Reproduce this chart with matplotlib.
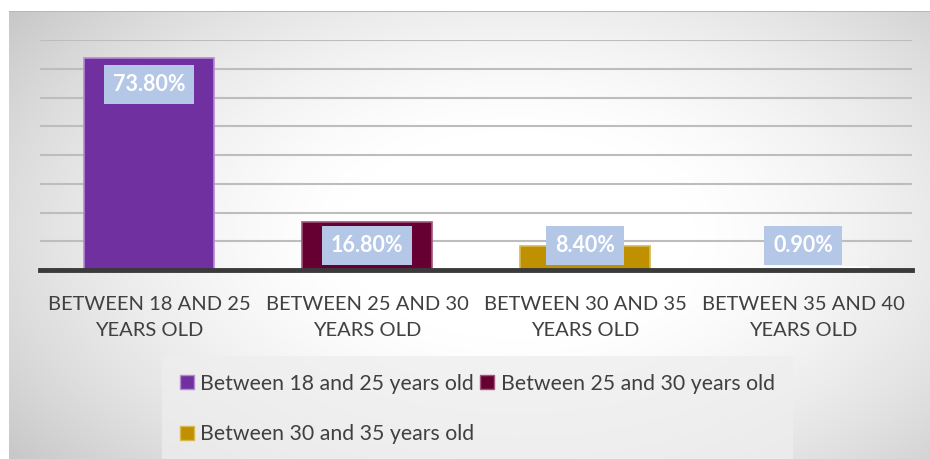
import numpy as np
import matplotlib.pyplot as plt
from matplotlib.patches import Patch

# Datos: distribución por grupos de edad (porcentaje)
categorias = ['BETWEEN 18 AND 25\nYEARS OLD', 'BETWEEN 25 AND 30\nYEARS OLD',
              'BETWEEN 30 AND 35\nYEARS OLD', 'BETWEEN 35 AND 40\nYEARS OLD']
series = ['Between 18 and 25 years old', 'Between 25 and 30 years old',
          'Between 30 and 35 years old', 'Between 35 and 40 years old']
valores = [73.8, 16.8, 8.4, 0.9]
colores = ['#7030a0', '#660033', '#bf9000', '#eef2f8']
bordes = ['#b58ad3', '#a0577a', '#d8b850', '#ffffff']

plt.rcParams['font.family'] = ['Lato', 'DejaVu Sans']

fig = plt.figure(figsize=(9.3, 4.59), dpi=100)
W, H = 930, 459

# Fondo del área del gráfico con degradado radial
fondo = fig.add_axes([9 / W, 0, 1 - 9 / W, (H - 11) / H], zorder=-10)
xx, yy = np.meshgrid(np.linspace(0, 1, 400), np.linspace(0, 1, 200))
r2 = ((xx - 0.55) / 0.66) ** 2 + ((yy - 0.5) / 0.8) ** 2
tono = np.clip(1.02 - 0.22 * r2, 0.77, 1.0)
fondo.imshow(np.dstack([tono, tono, tono]), aspect='auto', extent=[0, 1, 0, 1],
             origin='lower', interpolation='bicubic')
fondo.plot([0, 1], [1, 1], color='#b8b8b8', lw=1.5, transform=fondo.transAxes)
fondo.set_axis_off()

ax = fig.add_axes([40 / W, (H - 270) / H, (912 - 40) / W, (270 - 40) / H])
ax.patch.set_alpha(0)

x = np.arange(len(valores))
barras = ax.bar(x, valores, width=0.6, color=colores, edgecolor=bordes,
                linewidth=1.2, zorder=3)

ax.set_xlim(-0.5, len(valores) - 0.5)
ax.set_ylim(0, 80)
ax.set_yticks(np.arange(10, 81, 10))
ax.yaxis.grid(True, color='#bdbdbd', linewidth=1.5, zorder=0)
ax.tick_params(axis='y', left=False, labelleft=False)
for lado in ['top', 'right', 'left']:
    ax.spines[lado].set_visible(False)
ax.spines['bottom'].set_color('#3a3a3a')
ax.spines['bottom'].set_linewidth(3.5)
ax.spines['bottom'].set_zorder(4)

ax.set_xticks(x)
ax.set_xticklabels(categorias, fontsize=14.5, color='#404040', linespacing=1.65)
ax.tick_params(axis='x', length=0, pad=18.5)

# Etiquetas de valor dentro de la barra (con un mínimo sobre la base)
for xi, v in zip(x, valores):
    ypos = max(v - 9.2, 8.5)
    ax.text(xi, ypos, f'{v:.2f}%', ha='center', va='center', fontsize=15.5,
            fontweight='bold', color='white', zorder=5,
            bbox=dict(boxstyle='square,pad=0.42', fc='#b4c7e7', ec='none'))

# Leyenda (solo las tres primeras series)
handles = [Patch(facecolor=colores[i], edgecolor=bordes[i], label=series[i]) for i in range(3)]
orden = [handles[0], handles[2], handles[1]]
leg = fig.legend(handles=orden, ncol=2, loc='upper left',
                 bbox_to_anchor=(168 / W, (H - 362) / H), frameon=True,
                 fontsize=15.3, handlelength=0.65, handleheight=0.65,
                 handletextpad=0.3, columnspacing=0.3, labelspacing=1.45,
                 borderpad=0.55, borderaxespad=0)
leg.get_frame().set_facecolor('#eeeeee')
leg.get_frame().set_alpha(0.75)
leg.get_frame().set_edgecolor('none')
leg.get_frame().set_boxstyle('square')
for t in leg.get_texts():
    t.set_color('#404040')

plt.savefig('out.png', dpi=100, facecolor='white')
